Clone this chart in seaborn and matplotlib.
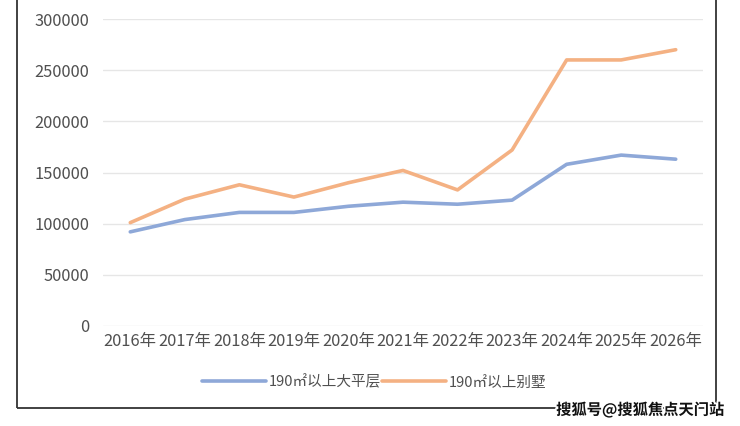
import matplotlib
matplotlib.use("Agg")
import matplotlib.pyplot as plt
import seaborn as sns
import pandas as pd
from matplotlib.patches import Rectangle
import matplotlib.patheffects as pe

years = ["2016年", "2017年", "2018年", "2019年", "2020年", "2021年",
         "2022年", "2023年", "2024年", "2025年", "2026年"]
flat = [92000, 104000, 111000, 111000, 117000, 121000, 119000, 123000, 158000, 167000, 163000]
villa = [101000, 124000, 138000, 126000, 140000, 152000, 133000, 172000, 260000, 260000, 270000]
series_names = ["190㎡以上大平层", "190㎡以上别墅"]
colors = ["#8EA8D8", "#F4B183"]
yticks = [0, 50000, 100000, 150000, 200000, 250000, 300000]

rows = []
for name, vals in zip(series_names, [flat, villa]):
    for i, (y, v) in enumerate(zip(years, vals)):
        rows.append({"idx": i, "year": y, "value": v, "series": name})
df = pd.DataFrame(rows)

sns.set_theme(style="white")
plt.rcParams["font.family"] = ["Noto Sans CJK SC", "DejaVu Sans"]

fig = plt.figure(figsize=(7.4, 4.26), dpi=100)
ax = fig.add_axes([103/740, 1-326/426, 600/740, 307/426])

sns.lineplot(data=df, x="idx", y="value", hue="series", palette=colors,
             hue_order=series_names, linewidth=2.6, ax=ax, legend=True)

txt = "#505050"
ax.set_xlim(-0.5, len(years) - 0.5)
ax.set_ylim(0, 300000)
ax.set_xticks(range(len(years)))
ax.set_xticklabels(years, fontsize=11.8, color=txt)
ax.set_yticks(yticks)
ax.set_yticklabels([str(t) for t in yticks], fontsize=11.8, color=txt)
ax.yaxis.grid(True, color="#E6E6E6", linewidth=1)
ax.set_axisbelow(True)
for s in ax.spines.values():
    s.set_visible(False)
ax.tick_params(axis="x", length=0, pad=5)
ax.tick_params(axis="y", length=0, pad=10)
ax.set_xlabel("")
ax.set_ylabel("")

handles, labels = ax.get_legend_handles_labels()
ax.legend(handles, labels, loc="center", bbox_to_anchor=(0.452, -0.183),
          ncol=2, frameon=False, fontsize=10.5, handlelength=4.4,
          columnspacing=0.1, handletextpad=0.15, labelcolor=txt)

# outer frame
fig.patches.append(Rectangle((17/740, 1-408/426), (716-17)/740, 1.0,
                             transform=fig.transFigure, fill=False,
                             edgecolor="#333333", linewidth=1.3))

fig.text(724/740, 1-410/426, "搜狐号@搜狐焦点天门站", ha="right", va="center",
         fontsize=11, color="#111111", fontweight="bold",
         path_effects=[pe.withStroke(linewidth=2.5, foreground="white")])

fig.savefig("out.png", dpi=100)
